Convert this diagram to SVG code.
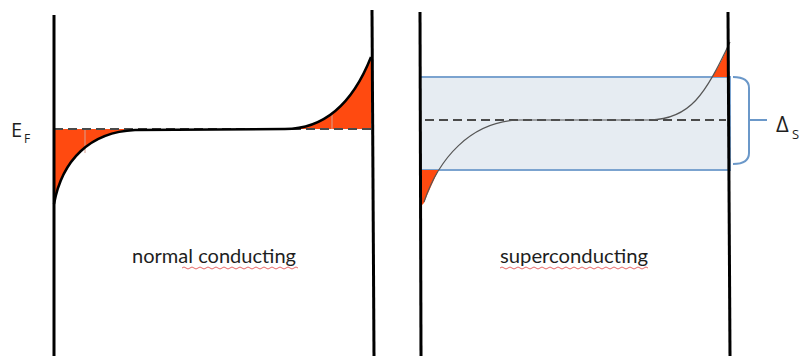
<svg xmlns="http://www.w3.org/2000/svg" width="804" height="356" viewBox="0 0 804 356">
<style>
.wall{stroke:#000;stroke-width:3;fill:none}
.red{fill:#ff4a10;stroke:none}
.dash{stroke:#4a4a4a;stroke-width:2;stroke-dasharray:9 5;fill:none}
.lbl{font-family:"Lato","Open Sans","Liberation Sans",sans-serif;fill:#1e1e1e}
.sym{font-family:"Open Sans","Liberation Sans",sans-serif;fill:#1e1e1e}
.wave{stroke:#e04040;stroke-width:0.8;fill:none}
.blue{stroke:#6b98c9;stroke-width:2;fill:none}
</style>
<rect width="804" height="356" fill="#fff"/>
<g id="panel-normal">
  <path class="red" d="M54,129 L54,204 C62,160 90,132 135,130 L135,129 Z"/>
  <path class="red" d="M285,129 C320,129 350,110 371,57 L371,129 Z"/>
  <line x1="85" y1="130" x2="85" y2="153" stroke="#d9a090" stroke-width="1"/>
  <line x1="332" y1="113" x2="332" y2="129" stroke="#d9a090" stroke-width="1"/>
  <line x1="54" y1="129" x2="371" y2="129" class="dash"/>
  <path d="M54,204 C62,160 90,132 135,130 L285,129 C320,129 350,110 371,57" stroke="#000" stroke-width="2.5" fill="none"/>
  <line class="wall" x1="54" y1="15" x2="54" y2="356"/>
  <line class="wall" x1="372" y1="10" x2="374" y2="356"/>
  <text class="lbl" x="214" y="263" font-size="19.5" text-anchor="middle" textLength="164" lengthAdjust="spacingAndGlyphs">normal conducting</text>
  <path class="wave" d="M182,268 q2,-2 4,0 t4,0 t4,0 t4,0 t4,0 t4,0 t4,0 t4,0 t4,0 t4,0 t4,0 t4,0 t4,0 t4,0 t4,0 t4,0 t4,0 t4,0 t4,0 t4,0 t4,0 t4,0 t4,0 t4,0 t4,0 t4,0 t4,0 t4,0 t4,0"/>
</g>
<g id="label-ef">
  <text class="sym" x="11" y="137" font-size="20">E</text>
  <text class="sym" x="24" y="143" font-size="12">F</text>
</g>
<g id="panel-super">
  <rect x="420" y="77" width="310" height="93" fill="#e6ecf2" stroke="#7ba3cf" stroke-width="2"/>
  <path class="red" d="M421,170 L438.5,170 C433,182 428,193 424,203 L421,206 Z"/>
  <path class="red" d="M712,77 C719,66 725,55 729,42 L729,77 Z"/>
  <line class="dash" x1="425" y1="120" x2="726" y2="120"/>
  <path d="M424,202 C438,160 470,121 520,120 L650,120 C690,119 705,95 730,42" stroke="#555" stroke-width="1.2" fill="none"/>
  <line class="wall" x1="420" y1="12" x2="421" y2="356"/>
  <line class="wall" x1="728" y1="12" x2="730" y2="356"/>
  <text class="lbl" x="574" y="263" font-size="19.5" text-anchor="middle" textLength="148" lengthAdjust="spacingAndGlyphs">superconducting</text>
  <path class="wave" d="M500,268 q2,-2 4,0 t4,0 t4,0 t4,0 t4,0 t4,0 t4,0 t4,0 t4,0 t4,0 t4,0 t4,0 t4,0 t4,0 t4,0 t4,0 t4,0 t4,0 t4,0 t4,0 t4,0 t4,0 t4,0 t4,0 t4,0 t4,0 t4,0 t4,0 t4,0 t4,0 t4,0 t4,0 t4,0 t4,0 t4,0 t4,0 t4,0"/>
</g>
<g id="gap-brace">
  <path class="blue" d="M733,77 Q749,77 749,88 L749,153 Q749,164 733,164 M749,120 L767,120"/>
  <text class="sym" x="776" y="132" font-size="22">Δ</text>
  <text class="sym" x="792" y="139" font-size="13">S</text>
</g>
</svg>
